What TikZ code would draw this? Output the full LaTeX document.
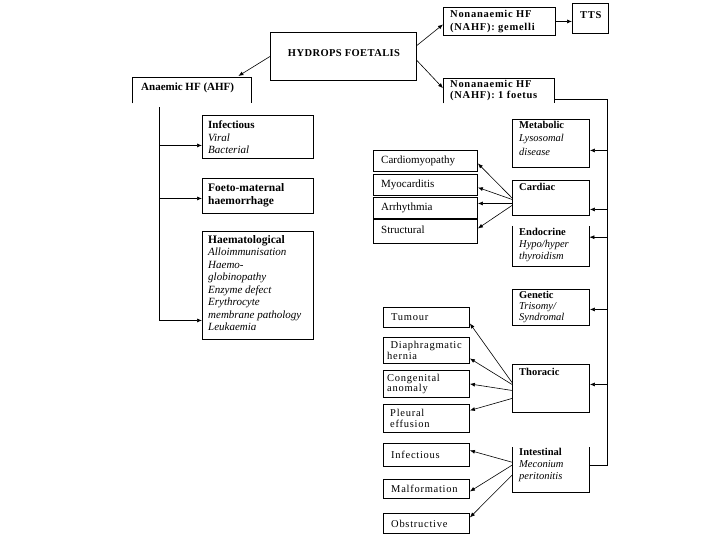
\documentclass[tikz,border=0pt]{standalone}
\usepackage{fontspec}
\setmainfont{Liberation Serif}
\newfontfamily\lsfont[LetterSpace=7]{Liberation Serif}
\newfontfamily\lsfontb[LetterSpace=4]{Liberation Serif}
\usetikzlibrary{arrows.meta}
\tikzset{
  boxst/.style={draw, line width=0.9pt, inner sep=0pt, anchor=north west},
  openbox/.style={inner sep=0pt, anchor=north west},
  edge/.style={line width=0.9pt},
  txt/.style={inner sep=0pt, anchor=north west, align=left, font=\fontsize{11}{12.5}\selectfont},
  rtxt/.style={inner sep=0pt, anchor=north west, align=left, font=\fontsize{10.5}{12.5}\selectfont},
  ltxt/.style={inner sep=0pt, anchor=west, align=left, font=\fontsize{11}{11}\selectfont},
  sptxt/.style={inner sep=0pt, anchor=west, align=left, font=\fontsize{10.5}{11}\lsfont},
  stxt/.style={inner sep=0pt, anchor=west, align=left, font=\fontsize{10.5}{10.5}\lsfont},
  conn/.style={line width=0.6pt},
  arr/.style={line width=0.6pt, -{Latex[length=5pt,width=4pt]}},
}
\newcommand\mybox[5]{%
  \node[boxst, minimum width={(#4-#2)*1pt}, minimum height={(#5-#3)*1pt}] (#1) at (#2,#3) {};}
\begin{document}
\begin{tikzpicture}[x=1pt,y=-1pt]
\useasboundingbox (0,0) rectangle (720,540);
% top boxes
\mybox{hf}{270}{32}{416}{80}
\node[inner sep=0pt, font=\fontsize{10.5}{12}\lsfontb\bfseries] (hft) at (344,53) {HYDROPS FOETALIS};
\mybox{gem}{443}{7}{555}{35}
\node[sptxt, font=\fontsize{10.5}{13}\lsfont\bfseries] (gemt) at (450,21.5) {Nonanaemic HF\\(NAHF): gemelli};
\mybox{tts}{572}{3}{608}{33}
\node[sptxt, font=\fontsize{10.5}{13}\lsfont\bfseries] (ttst) at (580,15) {TTS};
% open boxes
\node[openbox, minimum width=119pt, minimum height=26pt] (ahf) at (132,77) {};
\draw[edge] (ahf.south west) -- (ahf.north west) -- (ahf.north east) -- (ahf.south east);
\node[ltxt, font=\fontsize{11}{13}\selectfont\bfseries] (ahft) at (141,88) {Anaemic HF (AHF)};
\node[openbox, minimum width=111pt, minimum height=25pt] (nf1) at (443,78) {};
\draw[edge] (nf1.south west) -- (nf1.north west) -- (nf1.north east) -- (nf1.south east);
\node[sptxt, font=\fontsize{10.5}{10.5}\lsfont\bfseries] (nf1t) at (450,90.5) {Nonanaemic HF\\(NAHF): 1 foetus};
% left column
\mybox{inf}{202}{115}{313}{158}
\node[txt] (inft) at (208,121) {\textbf{Infectious}\\\textit{Viral}\\\textit{Bacterial}};
\mybox{fmh}{202}{178}{313}{213}
\node[txt, font=\fontsize{11.5}{13}\selectfont\bfseries] (fmht) at (208,183) {Foeto-maternal\\haemorrhage};
\mybox{hae}{202}{231}{313}{339}
\node[txt] (haet) at (208,235) {{\fontsize{11.5}{12.5}\selectfont\textbf{Haematological}}\\\textit{Alloimmunisation}\\\textit{Haemo-}\\\textit{globinopathy}\\\textit{Enzyme defect}\\\textit{Erythrocyte}\\\textit{membrane pathology}\\\textit{Leukaemia}};
% right column
\mybox{met}{512}{119}{589}{167}
\node[rtxt, font=\fontsize{10.5}{13.5}\selectfont] (mett) at (519,121) {\textbf{Metabolic}\\\textit{Lysosomal}\\\textit{disease}};
\mybox{car}{512}{180}{589}{215}
\node[rtxt] (cart) at (519,183) {\textbf{Cardiac}};
\node[openbox, minimum width=77pt, minimum height=40pt] (endo) at (512,226) {};
\draw[edge] (endo.north west) -- (endo.south west) -- (endo.south east) -- (endo.north east);
\node[rtxt, font=\fontsize{10.5}{12}\selectfont] (endot) at (519,228) {\textbf{Endocrine}\\\textit{Hypo/hyper}\\\textit{thyroidism}};
\mybox{gen}{512}{289}{589}{325}
\node[rtxt, font=\fontsize{10.5}{11}\selectfont] (gent) at (519,291) {\textbf{Genetic}\\\textit{Trisomy/}\\\textit{Syndromal}};
\mybox{tho}{512}{364}{589}{412}
\node[rtxt] (thot) at (519,368) {\textbf{Thoracic}};
\node[openbox, minimum width=77pt, minimum height=45pt] (int) at (512,447) {};
\draw[edge] (int.north west) -- (int.south west) -- (int.south east) -- (int.north east);
\node[rtxt, font=\fontsize{10.5}{12}\selectfont] (intt) at (519,448) {\textbf{Intestinal}\\\textit{Meconium}\\\textit{peritonitis}};
% cardiac subs
\mybox{cm}{373}{150}{477}{171}
\node[ltxt] (cmt) at ([xshift=8pt]cm.west) {Cardiomyopathy};
\mybox{myo}{373}{174}{477}{195}
\node[ltxt] (myot) at ([xshift=8pt]myo.west) {Myocarditis};
\mybox{arh}{373}{197}{477}{218}
\node[ltxt] (arht) at ([xshift=8pt]arh.west) {Arrhythmia};
\mybox{str}{373}{219}{477}{243}
\node[ltxt] (strt) at ([xshift=8pt,yshift=2pt]str.west) {Structural};
% thoracic subs
\mybox{tum}{383}{307}{469}{327}
\node[sptxt] (tumt) at ([xshift=8pt]tum.west) {Tumour};
\mybox{dia}{383}{337}{469}{363}
\node[stxt] (diat) at ([xshift=4pt]dia.west) {\ Diaphragmatic\\hernia};
\mybox{con}{383}{370}{469}{397}
\node[stxt] (cont) at ([xshift=4pt]con.west) {Congenital\\anomaly};
\mybox{ple}{383}{404}{469}{432}
\node[stxt] (plet) at ([xshift=7pt]ple.west) {Pleural\\effusion};
% intestinal subs
\mybox{itf}{383}{443}{469}{466}
\node[sptxt] (itft) at ([xshift=8pt]itf.west) {Infectious};
\mybox{mal}{383}{479}{469}{498}
\node[sptxt] (malt) at ([xshift=8pt]mal.west) {Malformation};
\mybox{obs}{383}{513}{469}{533}
\node[sptxt] (obst) at ([xshift=8pt]obs.west) {Obstructive};
% connectors top
\draw[arr] (hf.west) -- ([xshift=-13pt,yshift=1pt]ahf.north east);
\draw[arr] ([yshift=11pt]hf.east) -- ([yshift=-3pt]gem.west);
\draw[arr] ([yshift=-4pt]hf.east) -- ([yshift=2.5pt]nf1.west);
\draw[arr] (gem.east) -- (gem.east -| tts.west);
% left trunk
\coordinate (lt) at (159,0);
\draw[conn] ([yshift=-4pt]ahf.south -| lt) -- ([yshift=-35pt]hae.west -| lt);
\draw[arr] ([yshift=-8.5pt]inf.west -| lt) -- ([yshift=-8.5pt]inf.west);
\draw[arr] ([yshift=-2.5pt]fmh.west -| lt) -- ([yshift=-2.5pt]fmh.west);
\draw[arr] ([yshift=-35pt]hae.west -| lt) -- ([yshift=-35pt]hae.west);
% right trunk
\coordinate (rt) at (607,0);
\coordinate (intE) at ([yshift=4pt]int.east);
\draw[conn] ([yshift=-8.5pt]nf1.east) -- ([yshift=-8.5pt]nf1.east -| rt) -- (intE -| rt) -- (intE);
\draw[arr] ([yshift=-7pt]met.east -| rt) -- ([yshift=-7pt]met.east);
\draw[arr] ([yshift=-11.5pt]car.east -| rt) -- ([yshift=-11.5pt]car.east);
\draw[arr] ([yshift=9pt]endo.east -| rt) -- ([yshift=9pt]endo.east);
\draw[arr] ([yshift=-2pt]gen.east -| rt) -- ([yshift=-2pt]gen.east);
\draw[arr] ([yshift=4pt]tho.east -| rt) -- ([yshift=4pt]tho.east);
% cardiac arrows
\draw[arr] (car.west) -- ([yshift=-2.5pt]cm.east);
\draw[arr] ([yshift=-1.5pt]car.west) -- ([yshift=-2.5pt]myo.east);
\draw[arr] ([yshift=-5.5pt]car.west) -- ([yshift=4.5pt]arh.east);
\draw[arr] ([yshift=-7.5pt]car.west) -- ([yshift=3pt]str.east);
% thoracic arrows
\draw[arr] ([yshift=6pt]tho.west) -- ([yshift=-6pt]tum.east);
\draw[arr] ([yshift=4pt]tho.west) -- ([yshift=-8pt]dia.east);
\draw[arr] ([yshift=-2pt]tho.west) -- (con.east);
\draw[arr] ([yshift=-10pt]tho.west) -- ([yshift=8pt]ple.east);
% intestinal arrows
\draw[arr] ([yshift=7.5pt]int.west) -- ([yshift=4.5pt]itf.east);
\draw[arr] ([yshift=4.5pt]int.west) -- ([yshift=-2.5pt]mal.east);
\draw[arr] ([yshift=-5.5pt]int.west) -- ([yshift=6pt]obs.east);
\end{tikzpicture}
\end{document}
